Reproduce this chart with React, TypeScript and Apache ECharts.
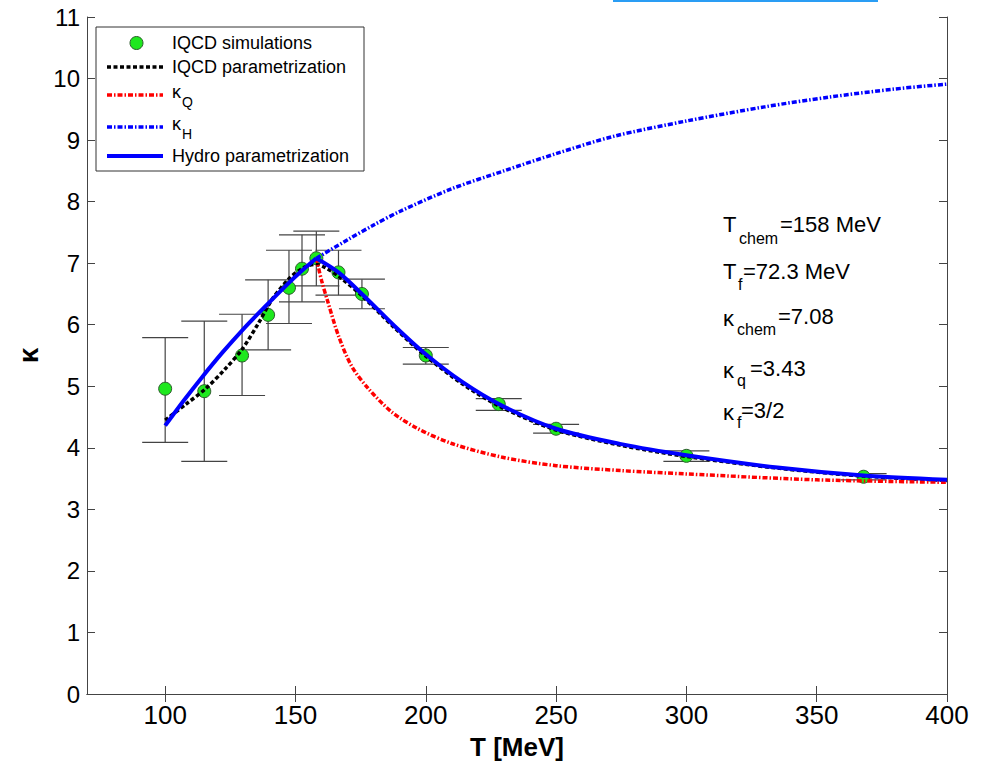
import React, { useEffect, useRef } from "react";
import * as echarts from "echarts";

const FONT = "Arial, 'Liberation Sans', sans-serif";

// Lattice QCD simulation points: temperature (MeV), kappa, error-bar bounds
const simT = [100, 115, 129.5, 139.5, 147.5, 152.5, 158, 166.5, 175.5, 200, 228, 250, 300, 368];
const simK = [4.96, 4.92, 5.5, 6.16, 6.6, 6.91, 7.08, 6.85, 6.5, 5.5, 4.71, 4.31, 3.87, 3.53];
const simLo = [4.09, 3.78, 4.85, 5.59, 6.02, 6.37, 6.63, 6.48, 6.26, 5.36, 4.61, 4.24, 3.78, 3.48];
const simHi = [5.79, 6.06, 6.17, 6.73, 7.21, 7.46, 7.52, 7.21, 6.74, 5.63, 4.8, 4.38, 3.95, 3.58];

// lQCD parametrization (black dashed)
const paramT = [100, 108, 115.5, 123, 129.5, 136, 141, 147.3, 152, 155, 158, 161.3, 166.5, 175.5, 188, 200, 214, 229, 250, 275, 300, 335, 368, 400];
const paramK = [4.45, 4.71, 4.96, 5.28, 5.6, 6.04, 6.41, 6.74, 6.9, 6.96, 6.98, 6.93, 6.79, 6.47, 5.95, 5.49, 5.04, 4.66, 4.29, 4.04, 3.86, 3.67, 3.54, 3.47];

// Hydro parametrization (blue solid), rising and falling branches around T_chem
const hydroRiseT = [100, 107, 114, 122, 130, 138, 146, 152, 158];
const hydroRiseK = [4.36, 4.76, 5.14, 5.55, 5.93, 6.28, 6.62, 6.86, 7.08];
const hydroFallT = [158, 166.5, 175.5, 188, 200, 214, 229, 250, 275, 300, 335, 368, 400];
const hydroFallK = [7.08, 6.85, 6.5, 5.98, 5.52, 5.07, 4.69, 4.31, 4.06, 3.88, 3.68, 3.55, 3.48];

// kappa_Q (red dash-dot)
const kqT = [158, 160, 162.5, 166.5, 171.5, 178, 187, 197, 210, 229, 250, 275, 300, 350, 400];
const kqK = [7.08, 6.72, 6.36, 5.82, 5.33, 4.96, 4.58, 4.31, 4.07, 3.85, 3.71, 3.63, 3.575, 3.48, 3.44];

// kappa_H (blue dash-dot)
const khT = [158, 170, 180, 190, 210, 230, 250, 272, 300, 330, 355, 380, 400];
const khK = [7.08, 7.38, 7.62, 7.84, 8.21, 8.5, 8.78, 9.06, 9.31, 9.54, 9.7, 9.83, 9.91];

const xTicks = [100, 150, 200, 250, 300, 350, 400];

const pairs = (xs: number[], ys: number[]) => xs.map((x, i) => [x, ys[i]]);

const DASH_DOT = [5, 2, 1.5, 2];
const DASHED = [4, 2.5];
const BLUE = "#0000ff";
const RED = "#ff0000";
const GREEN = "#1ee81e";

function buildGraphics() {
  const els: any[] = [];
  // thin accent bar at the top edge
  els.push({ type: "rect", shape: { x: 613, y: 0, width: 265, height: 2 }, style: { fill: "#2a9df4" } });

  // legend box
  els.push({ type: "rect", z: 100, shape: { x: 96, y: 27, width: 268, height: 144 }, style: { fill: "#fff", stroke: "#333", lineWidth: 1 } });
  els.push({ type: "circle", z: 101, shape: { cx: 136.5, cy: 43, r: 6.5 }, style: { fill: GREEN, stroke: "#2d5a2d", lineWidth: 1 } });
  const lx1 = 107, lx2 = 163;
  els.push({ type: "line", z: 101, shape: { x1: lx1, y1: 67, x2: lx2, y2: 67 }, style: { stroke: "#000", lineWidth: 3.5, lineDash: DASHED } });
  els.push({ type: "line", z: 101, shape: { x1: lx1, y1: 95, x2: lx2, y2: 95 }, style: { stroke: RED, lineWidth: 3.5, lineDash: DASH_DOT } });
  els.push({ type: "line", z: 101, shape: { x1: lx1, y1: 127, x2: lx2, y2: 127 }, style: { stroke: BLUE, lineWidth: 3.5, lineDash: DASH_DOT } });
  els.push({ type: "line", z: 101, shape: { x1: lx1, y1: 156, x2: lx2, y2: 156 }, style: { stroke: BLUE, lineWidth: 4 } });

  const txt = (text: string, x: number, y: number, size: number, extra: any = {}) => ({
    type: "text",
    z: 101,
    x,
    y,
    style: { text, fontSize: size, fontFamily: FONT, fill: "#000", align: "left", verticalAlign: "middle", ...extra },
  });
  els.push(txt("IQCD simulations", 172, 43, 18));
  els.push(txt("IQCD parametrization", 172, 67, 18));
  els.push(txt("κ", 172, 92, 18));
  els.push(txt("Q", 182, 102, 14));
  els.push(txt("κ", 172, 124, 18));
  els.push(txt("H", 182, 134, 14));
  els.push(txt("Hydro parametrization", 172, 156, 18));

  // parameter annotations
  const main = 22, sub = 16;
  els.push(txt("T", 723, 224, main));
  els.push(txt("chem", 739, 238, sub));
  els.push(txt("=158 MeV", 780, 224, main));

  els.push(txt("T", 723, 271, main));
  els.push(txt("f", 738, 284, sub));
  els.push(txt("=72.3 MeV", 743, 271, main));

  els.push(txt("κ", 723, 318, main));
  els.push(txt("chem", 737, 329, sub));
  els.push(txt("=7.08", 778, 316, main));

  els.push(txt("κ", 723, 370, main));
  els.push(txt("q", 737, 380, sub));
  els.push(txt("=3.43", 750, 368, main));

  els.push(txt("κ", 723, 412, main));
  els.push(txt("f", 737, 422, sub));
  els.push(txt("=3/2", 741, 410, main));
  return els;
}

export default function App() {
  const ref = useRef<HTMLDivElement>(null);

  useEffect(() => {
    if (!ref.current) return;
    const chart = echarts.init(ref.current, null, { renderer: "svg" });

    const axisLine = { show: true, lineStyle: { color: "#444", width: 1 } };
    const tick = { show: true, inside: true, length: 8, lineStyle: { color: "#444", width: 1 } };

    const option: any = {
      animation: false,
      backgroundColor: "#fff",
      grid: { left: 87, right: 35, top: 17, bottom: 69, containLabel: false },
      xAxis: [
        {
          type: "value",
          min: 70,
          max: 400,
          position: "bottom",
          axisLine,
          axisTick: { ...tick, customValues: xTicks },
          axisLabel: { customValues: xTicks, fontSize: 26, fontFamily: FONT, color: "#000", margin: 8 },
          splitLine: { show: false },
          name: "T [MeV]",
          nameLocation: "middle",
          nameGap: 40,
          nameTextStyle: { fontSize: 26, fontWeight: "bold", fontFamily: FONT, color: "#000" },
        },
        {
          type: "value",
          min: 70,
          max: 400,
          position: "top",
          axisLine,
          axisTick: { ...tick, customValues: xTicks },
          axisLabel: { show: false },
          splitLine: { show: false },
        },
      ],
      yAxis: [
        {
          type: "value",
          min: 0,
          max: 11,
          interval: 1,
          position: "left",
          axisLine,
          axisTick: tick,
          axisLabel: { fontSize: 24, fontFamily: FONT, color: "#000", margin: 7 },
          splitLine: { show: false },
          name: "κ",
          nameLocation: "middle",
          nameGap: 45,
          nameRotate: 90,
          nameTextStyle: { fontSize: 28, fontWeight: "bold", fontFamily: FONT, color: "#000" },
        },
        {
          type: "value",
          min: 0,
          max: 11,
          interval: 1,
          position: "right",
          axisLine,
          axisTick: tick,
          axisLabel: { show: false },
          splitLine: { show: false },
        },
      ],
      series: [
        {
          type: "custom",
          name: "errors",
          z: 2,
          xAxisIndex: 0,
          yAxisIndex: 0,
          data: simT.map((t, i) => [t, simLo[i], simHi[i]]),
          encode: { x: 0, y: [1, 2] },
          renderItem: (_p: any, api: any) => {
            const t = api.value(0);
            const top = api.coord([t, api.value(2)]);
            const bot = api.coord([t, api.value(1)]);
            const w = 23;
            const style = { stroke: "#444", lineWidth: 1.2, fill: "none" };
            return {
              type: "group",
              children: [
                { type: "line", shape: { x1: top[0], y1: top[1], x2: bot[0], y2: bot[1] }, style },
                { type: "line", shape: { x1: top[0] - w, y1: top[1], x2: top[0] + w, y2: top[1] }, style },
                { type: "line", shape: { x1: bot[0] - w, y1: bot[1], x2: bot[0] + w, y2: bot[1] }, style },
              ],
            };
          },
        },
        {
          type: "scatter",
          name: "IQCD simulations",
          z: 3,
          data: pairs(simT, simK),
          symbol: "circle",
          symbolSize: 13,
          itemStyle: { color: GREEN, borderColor: "#2d5a2d", borderWidth: 1, opacity: 1 },
        },
        {
          type: "line",
          name: "IQCD parametrization",
          z: 4,
          data: pairs(paramT, paramK),
          smooth: 0.3,
          showSymbol: false,
          symbol: "none",
          lineStyle: { color: "#000", width: 3.5, type: DASHED, cap: "butt" },
        },
        {
          type: "line",
          name: "κQ",
          z: 5,
          data: pairs(kqT, kqK),
          smooth: 0.3,
          showSymbol: false,
          symbol: "none",
          lineStyle: { color: RED, width: 3.5, type: DASH_DOT, cap: "butt" },
        },
        {
          type: "line",
          name: "κH",
          z: 5,
          data: pairs(khT, khK),
          smooth: 0.3,
          showSymbol: false,
          symbol: "none",
          lineStyle: { color: BLUE, width: 3.5, type: DASH_DOT, cap: "butt" },
        },
        {
          type: "line",
          name: "Hydro parametrization",
          z: 6,
          data: pairs(hydroRiseT, hydroRiseK),
          smooth: 0.3,
          showSymbol: false,
          symbol: "none",
          lineStyle: { color: BLUE, width: 4 },
        },
        {
          type: "line",
          name: "Hydro parametrization",
          z: 6,
          data: pairs(hydroFallT, hydroFallK),
          smooth: 0.3,
          showSymbol: false,
          symbol: "none",
          lineStyle: { color: BLUE, width: 4 },
        },
      ],
      graphic: buildGraphics(),
    };

    chart.setOption(option);
    return () => chart.dispose();
  }, []);

  return (
    <div
      ref={ref}
      style={{ position: "absolute", left: 0, top: 0, width: 982, height: 765, background: "#fff" }}
    />
  );
}
